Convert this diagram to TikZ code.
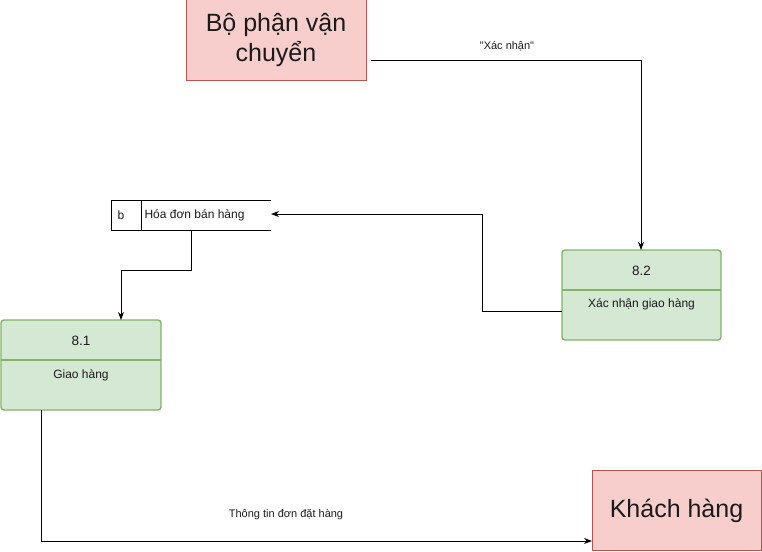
\documentclass[tikz,border=0pt]{standalone}
\usepackage{fontspec}
\setmainfont{Liberation Sans}
\newfontfamily\qfont{Liberation Sans}[Ligatures=TeXOff]
\usetikzlibrary{arrows.meta}
\definecolor{redfill}{HTML}{F8CECC}
\definecolor{reddraw}{HTML}{B85450}
\definecolor{greenfill}{HTML}{D5E8D4}
\definecolor{greendraw}{HTML}{82B366}
\definecolor{txt}{HTML}{1A1A1A}
\tikzset{
  entity/.style={draw=reddraw, fill=redfill, line width=1pt},
  proc/.style={draw=greendraw, fill=greenfill, line width=1.4pt, rounded corners=3pt},
  flow/.style={draw=black, line width=0.9pt, -{Stealth[length=8pt,width=6pt]}},
  small/.style={font=\fontsize{12}{14}\selectfont, text=txt},
  big/.style={font=\fontsize{25}{30}\selectfont, text=txt, align=center},
}
\begin{document}
\begin{tikzpicture}[x=1pt,y=-1pt]
\useasboundingbox (0,0) rectangle (762,551);
% Bộ phận vận chuyển
\draw[entity] (186,0) rectangle (366,80);
\node[big] (bpvc) at (276,40) {Bộ phận vận\\chuyển};
\coordinate (bpvcR) at (371,60);
% Khách hàng
\draw[entity] (592,470) rectangle (761,550);
\node[big] (kh) at (676.5,511) {Khách hàng};
\coordinate (khL) at (592,541);
% 8.2
\draw[proc] (562,250) rectangle (721,340);
\draw[greendraw, line width=1.4pt] (562,290) -- (721,290);
\node[font=\fontsize{13.5}{16}\selectfont, text=txt] (p82n) at (641.5,270.5) {8.2};
\node[small] (p82) at (641.5,304) {Xác nhận giao hàng};
\coordinate (p82T) at (641,250);
\coordinate (p82L) at (562,311);
% 8.1
\draw[proc] (1,320) rectangle (161,410);
\draw[greendraw, line width=1.4pt] (1,360) -- (161,360);
\node[font=\fontsize{13.5}{16}\selectfont, text=txt] (p81n) at (81,340.5) {8.1};
\node[small] (p81) at (81,375) {Giao hàng};
\coordinate (p81T) at (121,320);
\coordinate (p81B) at (41,410);
% Data store
\draw[black, line width=0.8pt] (271,200) -- (111,200) -- (111,230) -- (271,230);
\draw[black, line width=0.8pt] (141,200) -- (141,230);
\node[small, anchor=west] (dsb) at (114,215.5) {b};
\node[small, anchor=west] (ds) at (141,215.5) {Hóa đơn bán hàng};
\coordinate (dsR) at (271,214);
\coordinate (dsB) at (191,230);
% Connectors
\draw[flow] (bpvcR) -- (641,60) -- (p82T);
\node[font=\fontsize{11}{13}\qfont\selectfont, text=txt] (l1) at (507,46) {"Xác nhận"};
\draw[flow] (p82L) -- (482,311) -- (482,214) -- (dsR);
\draw[flow] (dsB) -- (191,270) -- (121,270) -- (p81T);
\draw[flow] (p81B) -- (41,541) -- (khL);
\node[font=\fontsize{11}{13}\selectfont, text=txt] (l2) at (286,515) {Thông tin đơn đặt hàng};
\end{tikzpicture}
\end{document}
